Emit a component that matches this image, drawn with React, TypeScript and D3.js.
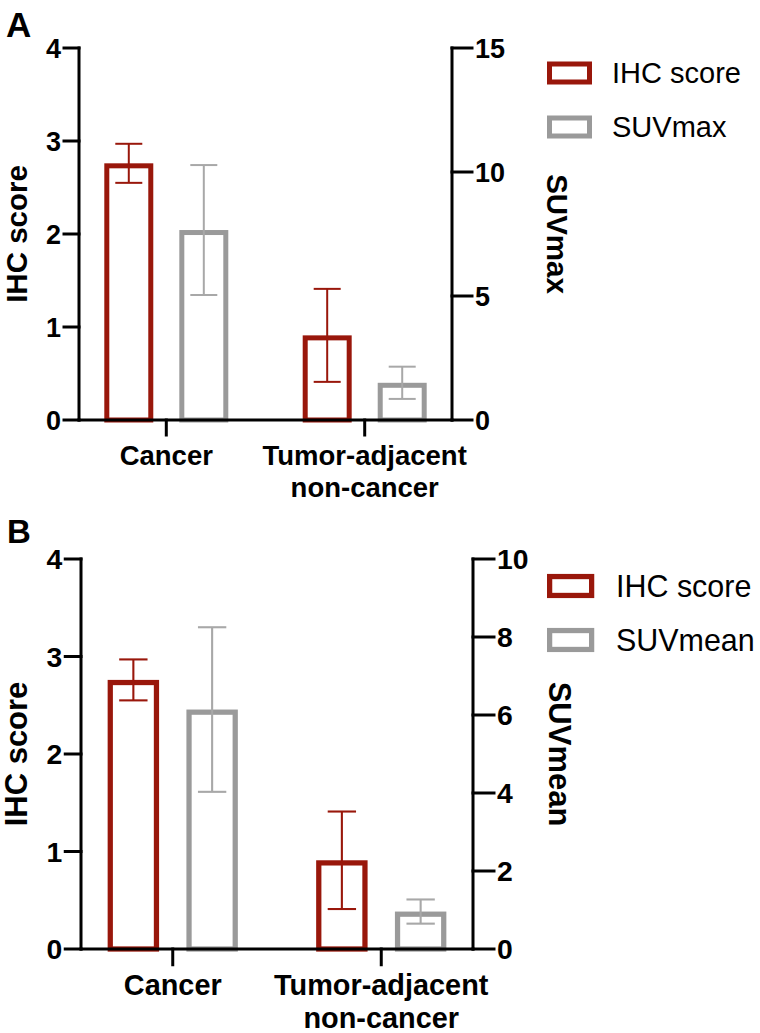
import React from "react";
import * as d3 from "d3";

// ---- data ----
const categories = ["Cancer", "Tumor-adjacent non-cancer"];
const categoryLines = [["Cancer"], ["Tumor-adjacent", "non-cancer"]];

const ihcMean = [2.76, 0.91];
const ihcErr = [0.21, 0.5];

const suvMaxMean = [7.66, 1.5];
const suvMaxErr = [2.62, 0.65];

const suvMeanMean = [6.14, 0.96];
const suvMeanErr = [2.11, 0.31];

const leftTicks = [0, 1, 2, 3, 4];
const rightTicksA = [0, 5, 10, 15];
const rightTicksB = [0, 2, 4, 6, 8, 10];

const RED = "#99170b";
const GRAY = "#9a9a9a";
const GRAY_ERR = "#a8a8a8";
const FONT = "'Liberation Sans', Arial, Helvetica, sans-serif";

type PanelCfg = {
  label: string;
  labelX: number;
  labelY: number;
  labelSize: number;
  xL: number;
  xR: number;
  yT: number;
  yB: number;
  s: number;
  rightTicks: number[];
  rightTitle: string;
  rightTitleX: number;
  leftTitleX: number;
  legendX: number;
  legendY: number[];
  legendTextX: number;
  catLabelY: number;
  catLineH: number;
  suvMean: number[];
  suvErr: number[];
};

function Panel({ c }: { c: PanelCfg }) {
  const s = c.s;
  const x = d3.scalePoint<string>().domain(categories).range([c.xL, c.xR]).padding(0.44);
  const keys = ["ihc", "suv"];
  const sub = d3.scaleBand<string>().domain(keys).range([-62 * s, 62 * s]).paddingInner(0.347).paddingOuter(0);
  const yL = d3.scaleLinear().domain([0, d3.max(leftTicks)!]).range([c.yB, c.yT]);
  const yR = d3.scaleLinear().domain([0, d3.max(c.rightTicks)!]).range([c.yB, c.yT]);
  const sw = 5 * s;
  const capW = 27 * s;
  const axisW = 3;
  const leftTickLen = 15 * s;
  const rightTickLen = 20 * s;
  const tickFs = 27 * s;
  const titleFs = 29.5 * s;

  const series = [
    { key: "ihc", mean: ihcMean, err: ihcErr, scale: yL, color: RED, errColor: RED, name: "IHC score" },
    { key: "suv", mean: c.suvMean, err: c.suvErr, scale: yR, color: GRAY, errColor: GRAY_ERR, name: c.rightTitle },
  ];

  const midY = (c.yT + c.yB) / 2;

  return (
    <g>
      <text x={c.labelX} y={c.labelY} fontFamily={FONT} fontWeight="bold" fontSize={c.labelSize}>
        {c.label}
      </text>

      {/* bars */}
      {series.map((se) =>
        categories.map((cat, i) => {
          const bx = x(cat)! + sub(se.key)!;
          const bw = sub.bandwidth();
          const top = se.scale(se.mean[i]);
          return (
            <rect
              key={se.key + i}
              x={bx + sw / 2}
              y={top + sw / 2}
              width={bw - sw}
              height={c.yB - top - sw / 2}
              fill="none"
              stroke={se.color}
              strokeWidth={sw}
            />
          );
        })
      )}

      {/* error bars */}
      {series.map((se) =>
        categories.map((cat, i) => {
          const cx = x(cat)! + sub(se.key)! + sub.bandwidth() / 2;
          const hi = se.scale(se.mean[i] + se.err[i]);
          const lo = se.scale(se.mean[i] - se.err[i]);
          return (
            <g key={"e" + se.key + i} stroke={se.errColor} strokeWidth={2 * s} fill="none">
              <line x1={cx} x2={cx} y1={hi} y2={lo} />
              <line x1={cx - capW / 2} x2={cx + capW / 2} y1={hi} y2={hi} />
              <line x1={cx - capW / 2} x2={cx + capW / 2} y1={lo} y2={lo} />
            </g>
          );
        })
      )}

      {/* axes */}
      <g stroke="#000" strokeWidth={axisW} fill="none" strokeLinecap="square">
        <line x1={c.xL} x2={c.xL} y1={c.yT} y2={c.yB} />
        <line x1={c.xR} x2={c.xR} y1={c.yT} y2={c.yB} />
        <line x1={c.xL} x2={c.xR} y1={c.yB} y2={c.yB} />
        {leftTicks.map((t) => (
          <line key={"lt" + t} x1={c.xL - leftTickLen} x2={c.xL} y1={yL(t)} y2={yL(t)} />
        ))}
        {c.rightTicks.map((t) => (
          <line key={"rt" + t} x1={c.xR} x2={c.xR + rightTickLen} y1={yR(t)} y2={yR(t)} />
        ))}
        {categories.map((cat) => (
          <line key={"ct" + cat} x1={x(cat)!} x2={x(cat)!} y1={c.yB} y2={c.yB + 15 * s} />
        ))}
      </g>

      {/* tick labels */}
      {leftTicks.map((t) => (
        <text
          key={"ll" + t}
          x={c.xL - leftTickLen - 3}
          y={yL(t)}
          dy="0.36em"
          textAnchor="end"
          fontFamily={FONT}
          fontWeight="bold"
          fontSize={tickFs}
        >
          {t}
        </text>
      ))}
      {c.rightTicks.map((t) => (
        <text
          key={"rl" + t}
          x={c.xR + rightTickLen + 3}
          y={yR(t)}
          dy="0.36em"
          textAnchor="start"
          fontFamily={FONT}
          fontWeight="bold"
          fontSize={tickFs}
        >
          {t}
        </text>
      ))}

      {/* category labels */}
      {categories.map((cat, i) => (
        <text
          key={"cl" + cat}
          x={x(cat)!}
          y={c.catLabelY}
          textAnchor="middle"
          fontFamily={FONT}
          fontWeight="bold"
          fontSize={27.5 * s}
        >
          {categoryLines[i].map((ln, j) => (
            <tspan key={j} x={x(cat)!} y={c.catLabelY + j * c.catLineH}>
              {ln}
            </tspan>
          ))}
        </text>
      ))}

      {/* axis titles */}
      <text
        transform={`translate(${c.leftTitleX},${midY}) rotate(-90)`}
        textAnchor="middle"
        fontFamily={FONT}
        fontWeight="bold"
        fontSize={titleFs}
      >
        IHC score
      </text>
      <text
        transform={`translate(${c.rightTitleX},${midY}) rotate(90)`}
        textAnchor="middle"
        fontFamily={FONT}
        fontWeight="bold"
        fontSize={titleFs}
      >
        {c.rightTitle}
      </text>

      {/* legend */}
      {series.map((se, i) => (
        <g key={"lg" + se.key}>
          <rect
            x={c.legendX + sw / 2}
            y={c.legendY[i] - 11.5 * s + sw / 2}
            width={45 * s - sw}
            height={23 * s - sw}
            fill="none"
            stroke={se.color}
            strokeWidth={sw}
          />
          <text
            x={c.legendTextX}
            y={c.legendY[i]}
            dy="0.36em"
            fontFamily={FONT}
            fontSize={29 * s}
          >
            {se.name}
          </text>
        </g>
      ))}
    </g>
  );
}

const panelA: PanelCfg = {
  label: "A",
  labelX: 6,
  labelY: 37,
  labelSize: 35,
  xL: 79,
  xR: 452,
  yT: 48,
  yB: 420,
  s: 1,
  rightTicks: rightTicksA,
  rightTitle: "SUVmax",
  rightTitleX: 547,
  leftTitleX: 27,
  legendX: 547,
  legendY: [73, 127],
  legendTextX: 612,
  catLabelY: 465,
  catLineH: 32,
  suvMean: suvMaxMean,
  suvErr: suvMaxErr,
};

const panelB: PanelCfg = {
  label: "B",
  labelX: 7,
  labelY: 543,
  labelSize: 33,
  xL: 81,
  xR: 473,
  yT: 559,
  yB: 949,
  s: 1.05,
  rightTicks: rightTicksB,
  rightTitle: "SUVmean",
  rightTitleX: 549,
  leftTitleX: 27,
  legendX: 547,
  legendY: [586, 640],
  legendTextX: 616,
  catLabelY: 995,
  catLineH: 33,
  suvMean: suvMeanMean,
  suvErr: suvMeanErr,
};

export default function App() {
  return (
    <svg
      width={760}
      height={1033}
      viewBox="0 0 760 1033"
      style={{ position: "absolute", left: 0, top: 0, background: "#fff" }}
    >
      <rect width={760} height={1033} fill="#fff" />
      <Panel c={panelA} />
      <Panel c={panelB} />
    </svg>
  );
}
